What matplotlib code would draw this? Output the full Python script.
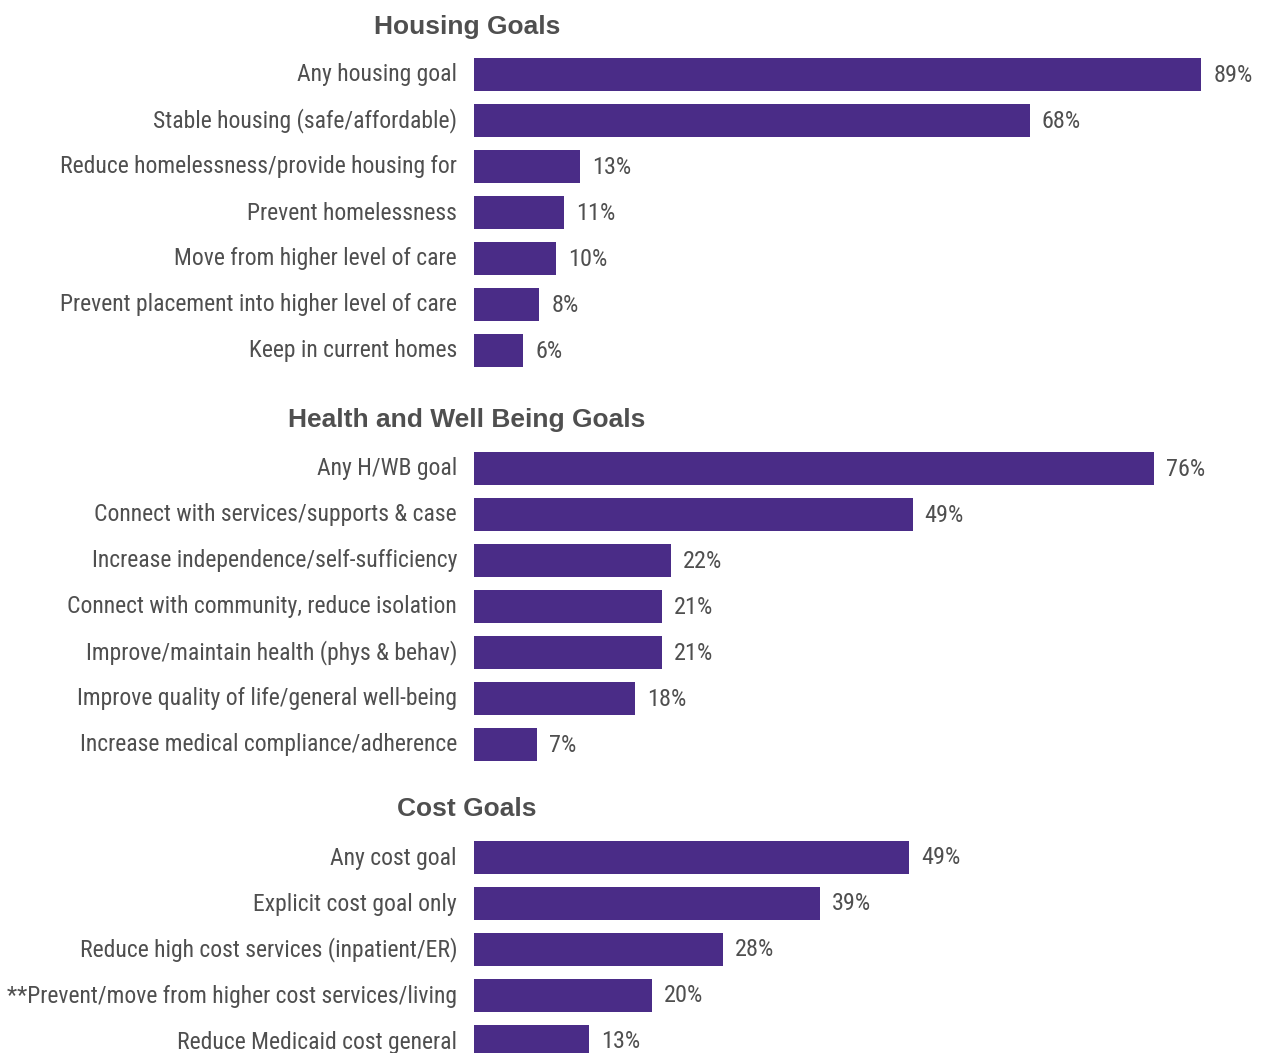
import matplotlib.pyplot as plt
from matplotlib import font_manager

# DATA

housing_labels = ['Any housing goal', 'Stable housing (safe/affordable)',
                  'Reduce homelessness/provide housing for', 'Prevent homelessness',
                  'Move from higher level of care', 'Prevent placement into higher level of care',
                  'Keep in current homes']
housing_values = [89, 68, 13, 11, 10, 8, 6]

health_labels = ['Any H/WB goal', 'Connect with services/supports & case',
                 'Increase independence/self-sufficiency', 'Connect with community, reduce isolation',
                 'Improve/maintain health (phys & behav)', 'Improve quality of life/general well-being',
                 'Increase medical compliance/adherence']
health_values = [76, 49, 22, 21, 21, 18, 7]

cost_labels = ['Any cost goal', 'Explicit cost goal only',
               'Reduce high cost services (inpatient/ER)',
               '**Prevent/move from higher cost services/living',
               'Reduce Medicaid cost general']
cost_values = [49, 39, 28, 20, 13]

group_titles = ['Housing Goals', 'Health and Well Being Goals', 'Cost Goals']

# FONTS - pick a condensed face for the labels

names = set(f.name for f in font_manager.fontManager.ttflist)
narrow = 'Roboto'
for cand in ['Roboto Condensed', 'Archivo Narrow', 'PT Sans Narrow', 'Liberation Sans Narrow',
             'Barlow Semi Condensed', 'Asap Condensed']:
    if cand in names:
        narrow = cand
        break

BAR = '#4a2c87'
TXT = '#4f4f4f'

W, H = 1265, 1053
fig = plt.figure(figsize=(W / 100, H / 100), dpi=100)
left_px = 474

# title y, first bar y (pixel rows), px per percent (each block has its own scale)
groups = [(group_titles[0], housing_labels, housing_values, 27, 74, 8.17),
          (group_titles[1], health_labels, health_values, 420, 468, 8.95),
          (group_titles[2], cost_labels, cost_values, 809, 857, 8.88)]
step = 46

for title, labels, values, ty, by, ppp in groups:
    ax = fig.add_axes([left_px / W, 0, 1 - left_px / W, 1])
    ax.set_xlim(0, (W - left_px) / ppp)
    ax.set_ylim(H, 0)
    ax.axis('off')
    title_x = (467 - left_px) / ppp
    label_x = (457 - left_px) / ppp
    ax.text(title_x, ty, title, ha='center', va='center', fontsize=19,
            fontweight='bold', color=TXT, family='Liberation Sans', clip_on=False)
    ys = [by + step * i for i in range(len(values))]
    ax.barh(ys, values, height=33, color=BAR)
    for y, lab, v in zip(ys, labels, values):
        ax.text(label_x, y + 1, lab, ha='right', va='center', fontsize=17,
                color=TXT, family=narrow, clip_on=False)
        ax.text(v + 12 / ppp, y + 1, f'{v}%', ha='left', va='center',
                fontsize=17.5, color=TXT, family=narrow)

fig.savefig('out.png', dpi=100)
